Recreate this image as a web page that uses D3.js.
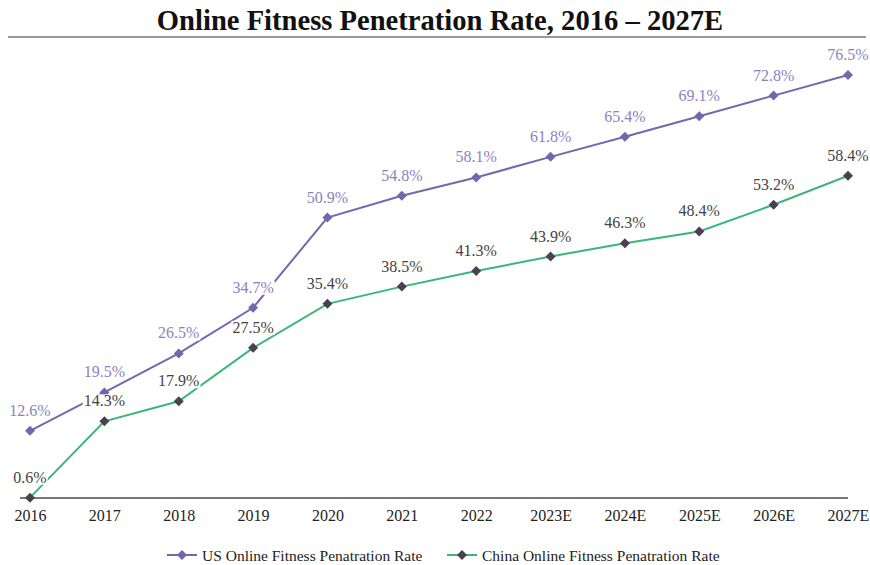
<!DOCTYPE html>
<html><head><meta charset="utf-8">
<script src="https://cdn.jsdelivr.net/npm/d3@7"></script>
<style>body{margin:0;background:#fff}svg{display:block}</style>
</head><body>
<svg id="c" width="870" height="565"></svg>
<script>
const categories = ["2016","2017","2018","2019","2020","2021","2022","2023E","2024E","2025E","2026E","2027E"];
const usValues = [12.6,19.5,26.5,34.7,50.9,54.8,58.1,61.8,65.4,69.1,72.8,76.5];
const chinaValues = [0.6,14.3,17.9,27.5,35.4,38.5,41.3,43.9,46.3,48.4,53.2,58.4];
const seriesNames = ["US Online Fitness Penatration Rate","China Online Fitness Penatration Rate"];
const titleText = "Online Fitness Penetration Rate, 2016 \u2013 2027E";

const font = "'Liberation Serif','Times New Roman',serif";
const usLine = "#7667ad", usMarker = "#7466ae", usLabel = "#8b82c2";
const cnLine = "#3bb67a", cnMarker = "#4b3f52", cnLabel = "#444";

const svg = d3.select("#c");
svg.append("text").attr("x",440).attr("y",30).attr("text-anchor","middle")
  .style("font-family",font).style("font-weight","bold").style("font-size","28.6px").attr("fill","#111")
  .text(titleText);
svg.append("line").attr("x1",8).attr("x2",866).attr("y1",37).attr("y2",37).attr("stroke","#777").attr("stroke-width",1.5);

const x = d3.scalePoint().domain(categories).range([30,848]);
const y = d3.scaleLinear().domain([0,76.5]).range([501,75]);

const axis = svg.append("g").attr("transform","translate(0,498)")
  .call(d3.axisBottom(x).tickSize(0).tickPadding(12));
axis.select(".domain").attr("d","M20,0H848").attr("stroke","#777").attr("stroke-width",2);
axis.selectAll("text").style("font-family",font).style("font-size","16px").attr("fill","#222");

function diamond(g, cx, cy, color, s){
  g.append("path").attr("d",`M${cx},${cy-s}L${cx+s},${cy}L${cx},${cy+s}L${cx-s},${cy}Z`).attr("fill",color);
}

const lineGen = d3.line().x((d,i)=>x(categories[i])).y(d=>y(d));
[[usValues,usLine],[chinaValues,cnLine]].forEach(([vals,lc])=>{
  svg.append("path").datum(vals).attr("d",lineGen).attr("fill","none").attr("stroke",lc).attr("stroke-width",2);
});
const mk = svg.append("g");
usValues.forEach((v,i)=>diamond(mk,x(categories[i]),y(v),usMarker,5));
chinaValues.forEach((v,i)=>diamond(mk,x(categories[i]),y(v),cnMarker,5));

const lg = svg.append("g");
function label(cx, cy, txt, color){
  const t = lg.append("text").attr("x",cx).attr("y",cy).attr("text-anchor","middle")
    .style("font-family",font).style("font-size","16px").attr("fill",color).text(txt);
  const b = t.node().getBBox();
  lg.insert("rect",()=>t.node()).attr("x",b.x-1).attr("y",b.y+2).attr("width",b.width+2).attr("height",b.height-3).attr("fill","#fff");
}
usValues.forEach((v,i)=>label(x(categories[i]),y(v)-15,v.toFixed(1)+"%",usLabel));
chinaValues.forEach((v,i)=>label(x(categories[i]),y(v)-15,v.toFixed(1)+"%",cnLabel));

// legend
const leg = svg.append("g");
const items = [[167,usLine,usMarker,seriesNames[0]],[447,cnLine,cnMarker,seriesNames[1]]];
items.forEach(([lx,lc,mc,name])=>{
  leg.append("line").attr("x1",lx).attr("x2",lx+30).attr("y1",555).attr("y2",555).attr("stroke",lc).attr("stroke-width",2);
  diamond(leg,lx+15,555,mc,5);
  leg.append("text").attr("x",lx+35).attr("y",561).style("font-family",font).style("font-size","15.5px").attr("fill","#222").text(name);
});
</script>
</body></html>
